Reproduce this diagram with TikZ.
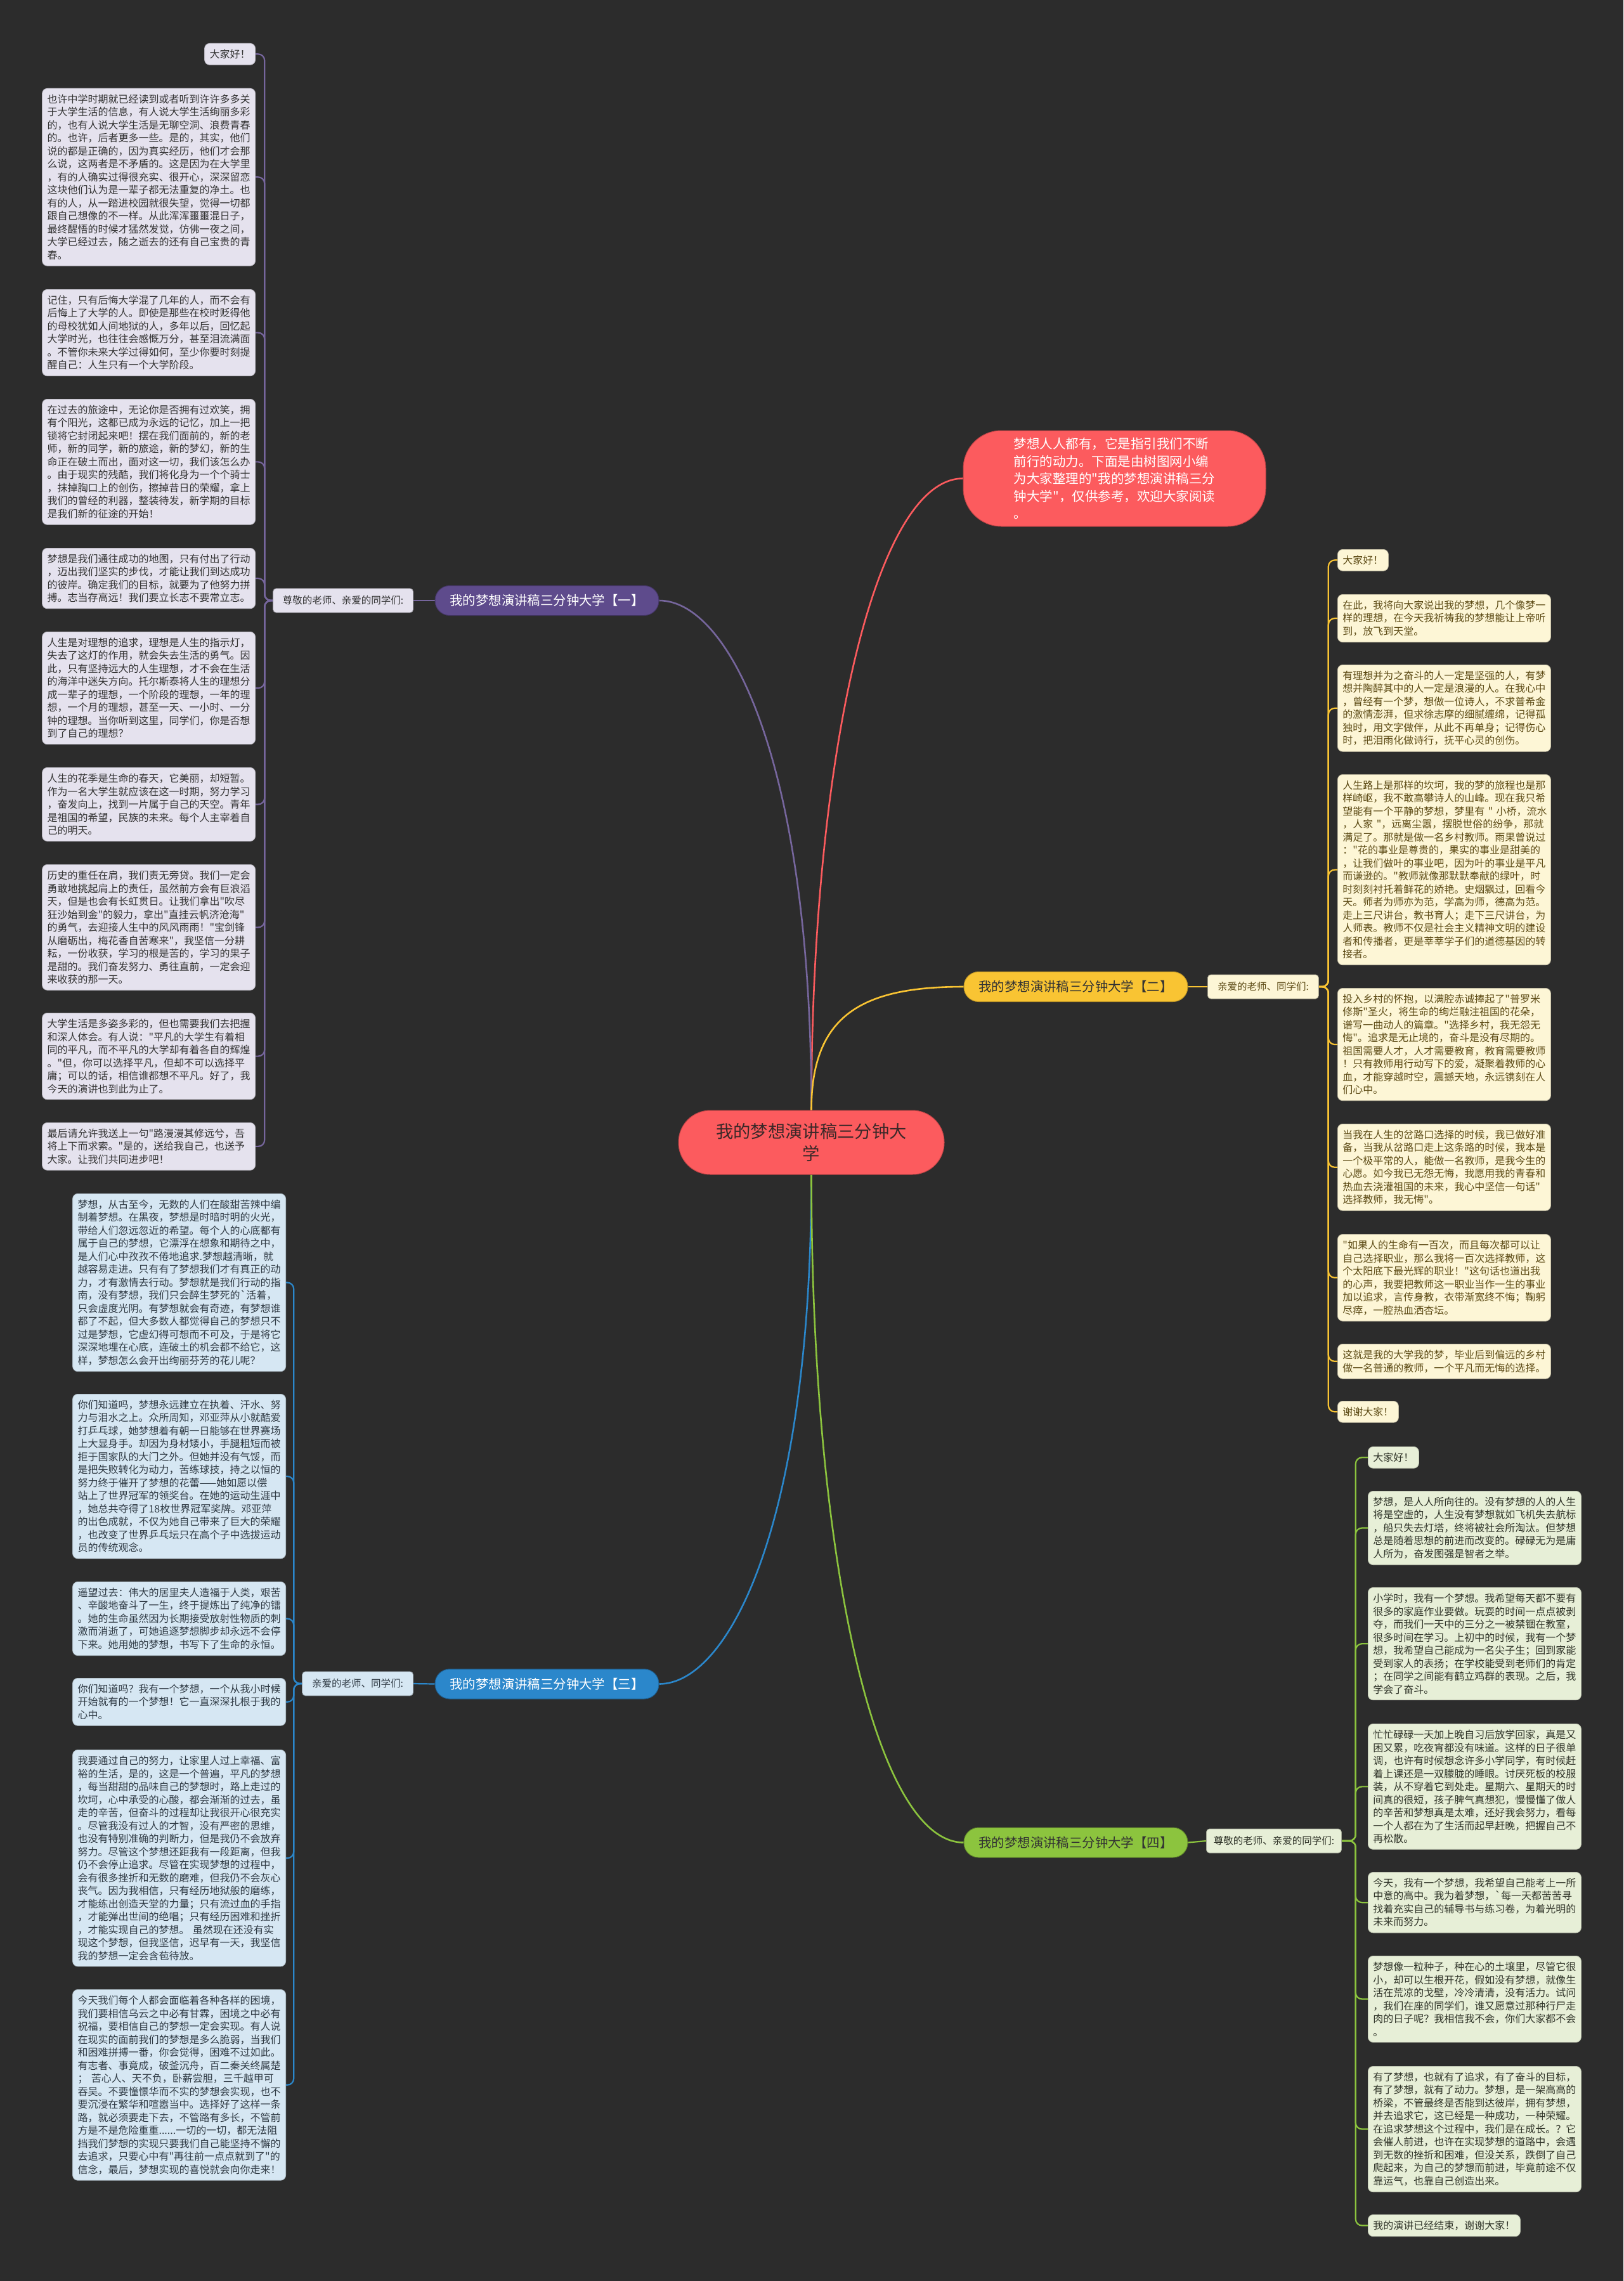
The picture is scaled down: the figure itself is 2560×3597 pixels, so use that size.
\documentclass[tikz,border=0pt]{standalone}
\usepackage{fontspec}
\newfontfamily\cjk{Noto Sans CJK SC}
\definecolor{bgc}{HTML}{2C2C2C}
\definecolor{redn}{HTML}{FC5B5E}
\definecolor{purn}{HTML}{5E4B8C}
\definecolor{yeln}{HTML}{F9C433}
\definecolor{blun}{HTML}{2B87CB}
\definecolor{grnn}{HTML}{8CC43E}
\definecolor{fillA}{HTML}{E5E2EE}
\definecolor{fillB}{HTML}{FDF6D6}
\definecolor{fillC}{HTML}{D6E7F3}
\definecolor{fillD}{HTML}{E7EFD7}
\definecolor{textA}{HTML}{333333}
\definecolor{textB}{HTML}{5C4A14}
\definecolor{textC}{HTML}{2F3A44}
\definecolor{textD}{HTML}{2F3328}
\definecolor{ctext}{HTML}{3A2828}
\newcommand\leaffont{\cjk\fontsize{16}{20.5}\selectfont}
\newcommand\pillfont{\cjk\fontsize{20.4}{24}\selectfont}
\newcommand\labfont{\cjk\fontsize{15.5}{18}\selectfont}
\newcommand\centerfont{\cjk\fontsize{27.3}{35}\selectfont}
\newcommand\bubblefont{\cjk\fontsize{20.5}{27.5}\selectfont}
\pgfdeclarelayer{back}
\pgfsetlayers{back,main}
\begin{document}
\begin{tikzpicture}[x=1pt,y=-1pt,
  leaf/.style={rounded corners=8pt, inner xsep=8pt, inner ysep=9.5pt, align=left, font=\leaffont, line width=0.8pt},
  shortA/.style={leaf, fill=fillA, draw=fillA!80!black, text=textA, anchor=north east},
  shortB/.style={leaf, fill=fillB, draw=fillB!75!black, text=textB, anchor=north west},
  shortC/.style={leaf, fill=fillC, draw=fillC!80!black, text=textC, anchor=north east},
  shortD/.style={leaf, fill=fillD, draw=fillD!80!black, text=textD, anchor=north west},
  leafA/.style={shortA, text width=320pt},
  leafB/.style={shortB, text width=320pt},
  leafC/.style={shortC, text width=320pt},
  leafD/.style={shortD, text width=320pt},
  pill/.style={rounded corners=23pt, minimum width=353pt, minimum height=47pt, inner sep=0pt, font=\pillfont, line width=1pt},
  lab/.style={line width=0.8pt, rounded corners=5pt, minimum height=38pt, inner xsep=4pt, inner ysep=0pt, font=\labfont},
  mainline/.style={line width=2.6pt},
  trunk/.style={line width=2.2pt, rounded corners=10pt},
]
\begin{pgfonlayer}{back}
\fill[bgc] (0,0) rectangle (2560,3597);
\end{pgfonlayer}
\useasboundingbox (0,0) rectangle (2560,3597);

% center and top bubble
\node[fill=redn, draw=redn!75!black, line width=1pt, text=ctext, rounded corners=50pt, minimum width=419pt, minimum height=101pt, align=center, font=\centerfont] (C) at (1279.5,1801.5) {我的梦想演讲稿三分钟大\\学};
\node[fill=redn, draw=redn!75!black, line width=1pt, text=white, rounded corners=60pt, minimum width=477pt, minimum height=151pt, align=left, font=\bubblefont] (T) at (1757.5,754.5) {梦想人人都有，它是指引我们不断\\前行的动力。下面是由树图网小编\\为大家整理的"我的梦想演讲稿三分\\钟大学"，仅供参考，欢迎大家阅读\\。};

% branch pills
\node[pill, fill=purn, draw=purn!70!black, text=white] (P1) at (862.5,947) {我的梦想演讲稿三分钟大学【一】};
\node[pill, fill=yeln, draw=yeln!75!black, text=textA] (P2) at (1696.5,1556) {我的梦想演讲稿三分钟大学【二】};
\node[pill, fill=blun, draw=blun!70!black, text=white] (P3) at (862.5,2655.5) {我的梦想演讲稿三分钟大学【三】};
\node[pill, fill=grnn, draw=grnn!70!black, text=textA] (P4) at (1696.5,2905.5) {我的梦想演讲稿三分钟大学【四】};

% labels
\node[lab, fill=fillA, draw=fillA!70!black, text=textA, anchor=east, minimum width=221pt] (L1) at (652,947) {尊敬的老师、亲爱的同学们:};
\node[lab, fill=fillB, draw=fillB!65!black, text=textB, anchor=west, minimum width=175pt] (L2) at (1904,1556) {亲爱的老师、同学们:};
\node[lab, fill=fillC, draw=fillC!70!black, text=textC, anchor=east, minimum width=175pt] (L3) at (652,2655) {亲爱的老师、同学们:};
\node[lab, fill=fillD, draw=fillD!70!black, text=textD, anchor=west, minimum width=213pt] (L4) at (1902,2903) {尊敬的老师、亲爱的同学们:};

% ---------- branch one leaves ----------
\node[shortA] (a1) at (403,68) {大家好！};
\node[leafA] (a2) at (403,139) {也许中学时期就已经读到或者听到许许多多关\\于大学生活的信息，有人说大学生活绚丽多彩\\的，也有人说大学生活是无聊空洞、浪费青春\\的。也许，后者更多一些。是的，其实，他们\\说的都是正确的，因为真实经历，他们才会那\\么说，这两者是不矛盾的。这是因为在大学里\\，有的人确实过得很充实、很开心，深深留恋\\这块他们认为是一辈子都无法重复的净土。也\\有的人，从一踏进校园就很失望，觉得一切都\\跟自己想像的不一样。从此浑浑噩噩混日子，\\最终醒悟的时候才猛然发觉，仿佛一夜之间，\\大学已经过去，随之逝去的还有自己宝贵的青\\春。};
\node[leafA] (a3) at (403,456) {记住，只有后悔大学混了几年的人，而不会有\\后悔上了大学的人。即使是那些在校时贬得他\\的母校犹如人间地狱的人，多年以后，回忆起\\大学时光，也往往会感慨万分，甚至泪流满面\\。不管你未来大学过得如何，至少你要时刻提\\醒自己：人生只有一个大学阶段。};
\node[leafA] (a4) at (403,629) {在过去的旅途中，无论你是否拥有过欢笑，拥\\有个阳光，这都已成为永远的记忆，加上一把\\锁将它封闭起来吧！摆在我们面前的，新的老\\师，新的同学，新的旅途，新的梦幻，新的生\\命正在破土而出，面对这一切，我们该怎么办\\。由于现实的残酷，我们将化身为一个个骑士\\，抹掉胸口上的创伤，擦掉昔日的荣耀，拿上\\我们的曾经的利器，整装待发，新学期的目标\\是我们新的征途的开始！};
\node[leafA] (a5) at (403,864) {梦想是我们通往成功的地图，只有付出了行动\\，迈出我们坚实的步伐，才能让我们到达成功\\的彼岸。确定我们的目标，就要为了他努力拼\\搏。志当存高远！我们要立长志不要常立志。};
\node[leafA] (a6) at (403,996) {人生是对理想的追求，理想是人生的指示灯，\\失去了这灯的作用，就会失去生活的勇气。因\\此，只有坚持远大的人生理想，才不会在生活\\的海洋中迷失方向。托尔斯泰将人生的理想分\\成一辈子的理想，一个阶段的理想，一年的理\\想，一个月的理想，甚至一天、一小时、一分\\钟的理想。当你听到这里，同学们，你是否想\\到了自己的理想？};
\node[leafA] (a7) at (403,1210) {人生的花季是生命的春天，它美丽，却短暂。\\作为一名大学生就应该在这一时期，努力学习\\，奋发向上，找到一片属于自己的天空。青年\\是祖国的希望，民族的未来。每个人主宰着自\\己的明天。};
\node[leafA] (a8) at (403,1363) {历史的重任在肩，我们责无旁贷。我们一定会\\勇敢地挑起肩上的责任，虽然前方会有巨浪滔\\天，但是也会有长虹贯日。让我们拿出"吹尽\\狂沙始到金"的毅力，拿出"直挂云帆济沧海"\\的勇气，去迎接人生中的风风雨雨！"宝剑锋\\从磨砺出，梅花香自苦寒来"，我坚信一分耕\\耘，一份收获，学习的根是苦的，学习的果子\\是甜的。我们奋发努力、勇往直前，一定会迎\\来收获的那一天。};
\node[leafA] (a9) at (403,1597) {大学生活是多姿多彩的，但也需要我们去把握\\和深人体会。有人说："平凡的大学生有着相\\同的平凡，而不平凡的大学却有着各自的辉煌\\。"但，你可以选择平凡，但却不可以选择平\\庸；可以的话，相信谁都想不平凡。好了，我\\今天的演讲也到此为止了。};
\node[leafA] (a10) at (403,1770) {最后请允许我送上一句"路漫漫其修远兮，吾\\将上下而求索。"是的，送给我自己，也送予\\大家。让我们共同进步吧！};

% ---------- branch two leaves ----------
\node[shortB] (b1) at (2109,866) {大家好！};
\node[leafB] (b2) at (2109,937) {在此，我将向大家说出我的梦想，几个像梦一\\样的理想，在今天我祈祷我的梦想能让上帝听\\到，放飞到天堂。};
\node[leafB] (b3) at (2109,1048) {有理想并为之奋斗的人一定是坚强的人，有梦\\想并陶醉其中的人一定是浪漫的人。在我心中\\，曾经有一个梦，想做一位诗人，不求普希金\\的激情澎湃，但求徐志摩的细腻缠绵，记得孤\\独时，用文字做伴，从此不再单身；记得伤心\\时，把泪雨化做诗行，抚平心灵的创伤。};
\node[leafB] (b4) at (2109,1221) {人生路上是那样的坎坷，我的梦的旅程也是那\\样崎岖，我不敢高攀诗人的山峰。现在我只希\\望能有一个平静的梦想，梦里有~"~小桥，流水\\，人家~"，远离尘嚣，摆脱世俗的纷争，那就\\满足了。那就是做一名乡村教师。雨果曾说过\\："花的事业是尊贵的，果实的事业是甜美的\\，让我们做叶的事业吧，因为叶的事业是平凡\\而谦逊的。"教师就像那默默奉献的绿叶，时\\时刻刻衬托着鲜花的娇艳。史烟飘过，回看今\\天。师者为师亦为范，学高为师，德高为范。\\走上三尺讲台，教书育人；走下三尺讲台，为\\人师表。教师不仅是社会主义精神文明的建设\\者和传播者，更是莘莘学子们的道德基因的转\\接者。};
\node[leafB] (b5) at (2109,1558) {投入乡村的怀抱，以满腔赤诚捧起了"普罗米\\修斯"圣火，将生命的绚烂融注祖国的花朵，\\谱写一曲动人的篇章。"选择乡村，我无怨无\\悔"。追求是无止境的，奋斗是没有尽期的。\\祖国需要人才，人才需要教育，教育需要教师\\！只有教师用行动写下的爱，凝聚着教师的心\\血，才能穿越时空，震撼天地，永远镌刻在人\\们心中。};
\node[leafB] (b6) at (2109,1772) {当我在人生的岔路口选择的时候，我已做好准\\备，当我从岔路口走上这条路的时候，我本是\\一个极平常的人，能做一名教师，是我今生的\\心愿。如今我已无怨无悔，我愿用我的青春和\\热血去浇灌祖国的未来，我心中坚信一句话"\\选择教师，我无悔"。};
\node[leafB] (b7) at (2109,1946) {"如果人的生命有一百次，而且每次都可以让\\自己选择职业，那么我将一百次选择教师，这\\个太阳底下最光辉的职业！"这句话也道出我\\的心声，我要把教师这一职业当作一生的事业\\加以追求，言传身教，衣带渐宽终不悔；鞠躬\\尽瘁，一腔热血洒杏坛。};
\node[leafB] (b8) at (2109,2119) {这就是我的大学我的梦，毕业后到偏远的乡村\\做一名普通的教师，一个平凡而无悔的选择。};
\node[shortB] (b9) at (2109,2209) {谢谢大家！};

% ---------- branch three leaves ----------
\node[leafC] (c1) at (451,1882) {梦想，从古至今，无数的人们在酸甜苦辣中编\\制着梦想。在黑夜，梦想是时暗时明的火光，\\带给人们忽远忽近的希望。每个人的心底都有\\属于自己的梦想，它漂浮在想象和期待之中，\\是人们心中孜孜不倦地追求.梦想越清晰，就\\越容易走进。只有有了梦想我们才有真正的动\\力，才有激情去行动。梦想就是我们行动的指\\南，没有梦想，我们只会醉生梦死的\textasciigrave 活着，\\只会虚度光阴。有梦想就会有奇迹，有梦想谁\\都了不起，但大多数人都觉得自己的梦想只不\\过是梦想，它虚幻得可想而不可及，于是将它\\深深地埋在心底，连破土的机会都不给它，这\\样，梦想怎么会开出绚丽芬芳的花儿呢？};
\node[leafC] (c2) at (451,2198) {你们知道吗，梦想永远建立在执着、汗水、努\\力与泪水之上。众所周知，邓亚萍从小就酷爱\\打乒乓球，她梦想着有朝一日能够在世界赛场\\上大显身手。却因为身材矮小，手腿粗短而被\\拒于国家队的大门之外。但她并没有气馁，而\\是把失败转化为动力，苦练球技，持之以恒的\\努力终于催开了梦想的花蕾——她如愿以偿\\站上了世界冠军的领奖台。在她的运动生涯中\\，她总共夺得了18枚世界冠军奖牌。邓亚萍\\的出色成就，不仅为她自己带来了巨大的荣耀\\，也改变了世界乒乓坛只在高个子中选拔运动\\员的传统观念。};
\node[leafC] (c3) at (451,2494) {遥望过去：伟大的居里夫人造福于人类，艰苦\\、辛酸地奋斗了一生，终于提炼出了纯净的镭\\。她的生命虽然因为长期接受放射性物质的刺\\激而消逝了，可她追逐梦想脚步却永远不会停\\下来。她用她的梦想，书写下了生命的永恒。};
\node[leafC] (c4) at (451,2646) {你们知道吗？我有一个梦想，一个从我小时候\\开始就有的一个梦想！它一直深深扎根于我的\\心中。};
\node[leafC] (c5) at (451,2759) {我要通过自己的努力，让家里人过上幸福、富\\裕的生活，是的，这是一个普遍，平凡的梦想\\，每当甜甜的品味自己的梦想时，路上走过的\\坎坷，心中承受的心酸，都会渐渐的过去，虽\\走的辛苦，但奋斗的过程却让我很开心很充实\\。尽管我没有过人的才智，没有严密的思维，\\也没有特别准确的判断力，但是我仍不会放弃\\努力。尽管这个梦想还距我有一段距离，但我\\仍不会停止追求。尽管在实现梦想的过程中，\\会有很多挫折和无数的磨难，但我仍不会灰心\\丧气。因为我相信，只有经历地狱般的磨练，\\才能练出创造天堂的力量；只有流过血的手指\\，才能弹出世间的绝唱；只有经历困难和挫折\\，才能实现自己的梦想。~虽然现在还没有实\\现这个梦想，但我坚信，迟早有一天，我坚信\\我的梦想一定会含苞待放。};
\node[leafC] (c6) at (451,3137) {今天我们每个人都会面临着各种各样的困境，\\我们要相信乌云之中必有甘霖，困境之中必有\\祝福，要相信自己的梦想一定会实现。有人说\\在现实的面前我们的梦想是多么脆弱，当我们\\和困难拼搏一番，你会觉得，困难不过如此。\\有志者、事竟成，破釜沉舟，百二秦关终属楚\\；~苦心人、天不负，卧薪尝胆，三千越甲可\\吞吴。不要憧憬华而不实的梦想会实现，也不\\要沉浸在繁华和喧嚣当中。选择好了这样一条\\路，就必须要走下去，不管路有多长，不管前\\方是不是危险重重......一切的一切，都无法阻\\挡我们梦想的实现只要我们自己能坚持不懈的\\去追求，只要心中有"再往前一点点就到了"的\\信念，最后，梦想实现的喜悦就会向你走来！};

% ---------- branch four leaves ----------
\node[shortD] (d1) at (2157,2281) {大家好！};
\node[leafD] (d2) at (2157,2351) {梦想，是人人所向往的。没有梦想的人的人生\\将是空虚的，人生没有梦想就如飞机失去航标\\，船只失去灯塔，终将被社会所淘汰。但梦想\\总是随着思想的前进而改变的。碌碌无为是庸\\人所为，奋发图强是智者之举。};
\node[leafD] (d3) at (2157,2503) {小学时，我有一个梦想。我希望每天都不要有\\很多的家庭作业要做。玩耍的时间一点点被剥\\夺，而我们一天中的三分之一被禁锢在教室，\\很多时间在学习。上初中的时候，我有一个梦\\想，我希望自己能成为一名尖子生；回到家能\\受到家人的表扬；在学校能受到老师们的肯定\\；在同学之间能有鹤立鸡群的表现。之后，我\\学会了奋斗。};
\node[leafD] (d4) at (2157,2718) {忙忙碌碌一天加上晚自习后放学回家，真是又\\困又累，吃夜宵都没有味道。这样的日子很单\\调，也许有时候想念许多小学同学，有时候赶\\着上课还是一双朦胧的睡眼。讨厌死板的校服\\装，从不穿着它到处走。星期六、星期天的时\\间真的很短，孩子脾气真想犯，慢慢懂了做人\\的辛苦和梦想真是太难，还好我会努力，看每\\一个人都在为了生活而起早赶晚，把握自己不\\再松散。};
\node[leafD] (d5) at (2157,2952) {今天，我有一个梦想，我希望自己能考上一所\\中意的高中。我为着梦想，\textasciigrave 每一天都苦苦寻\\找着充实自己的辅导书与练习卷，为着光明的\\未来而努力。};
\node[leafD] (d6) at (2157,3084) {梦想像一粒种子，种在心的土壤里，尽管它很\\小，却可以生根开花，假如没有梦想，就像生\\活在荒凉的戈壁，冷冷清清，没有活力。试问\\，我们在座的同学们，谁又愿意过那种行尸走\\肉的日子呢？我相信我不会，你们大家都不会\\。};
\node[leafD] (d7) at (2157,3258) {有了梦想，也就有了追求，有了奋斗的目标，\\有了梦想，就有了动力。梦想，是一架高高的\\桥梁，不管最终是否能到达彼岸，拥有梦想，\\并去追求它，这已经是一种成功，一种荣耀。\\在追求梦想这个过程中，我们是在成长。？它\\会催人前进，也许在实现梦想的道路中，会遇\\到无数的挫折和困难，但没关系，跌倒了自己\\爬起来，为自己的梦想而前进，毕竟前途不仅\\靠运气，也靠自己创造出来。};
\node[shortD] (d8) at (2157,3492) {我的演讲已经结束，谢谢大家！};

% ---------- connectors ----------
\begin{pgfonlayer}{back}
\draw[mainline, redn] (C.north) .. controls +(0,-550) and +(-140,0) .. (T.west);
\draw[mainline, purn!85!white] (C.north) .. controls +(0,-550) and +(110,0) .. (P1.east);
\draw[mainline, yeln] (C.north) .. controls +(0,-150) and +(-160,0) .. (P2.west);
\draw[mainline, blun] (C.south) .. controls +(0,550) and +(110,0) .. (P3.east);
\draw[mainline, grnn] (C.south) .. controls +(0,600) and +(-140,0) .. (P4.west);
\draw[trunk, purn!85!white] (P1.west) -- (L1.east);
\draw[trunk, yeln] (P2.east) -- (L2.west);
\draw[trunk, blun] (P3.west) -- (L3.east);
\draw[trunk, grnn] (P4.east) -- (L4.west);
\foreach \n in {a1,a2,a3,a4,a5,a6,a7,a8,a9,a10}
  \draw[trunk, purn!85!white] (L1.west) -- ++(-13,0) |- (\n.east);
\foreach \n in {b1,b2,b3,b4,b5,b6,b7,b8,b9}
  \draw[trunk, yeln] (L2.east) -- ++(15,0) |- (\n.west);
\foreach \n in {c1,c2,c3,c4,c5,c6}
  \draw[trunk, blun] (L3.west) -- ++(-13,0) |- (\n.east);
\foreach \n in {d1,d2,d3,d4,d5,d6,d7,d8}
  \draw[trunk, grnn] (L4.east) -- ++(22,0) |- (\n.west);
\end{pgfonlayer}
\end{tikzpicture}
\end{document}
